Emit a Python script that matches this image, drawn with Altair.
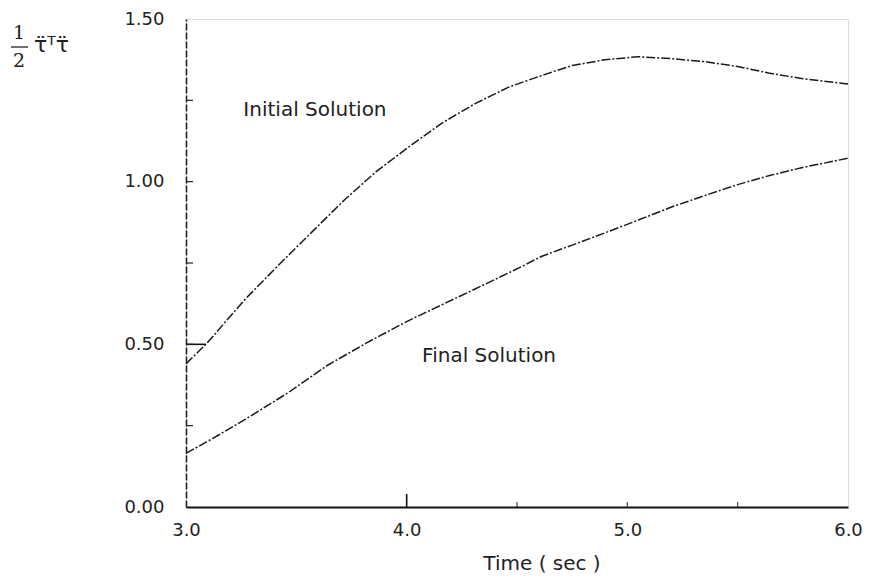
import altair as alt
import pandas as pd

# ---- data ----
initial_t = [3.0, 3.09, 3.27, 3.42, 3.57, 3.72, 3.86, 4.02, 4.16, 4.31, 4.46, 4.61,
             4.75, 4.90, 5.05, 5.20, 5.35, 5.50, 5.64, 5.79, 6.0]
initial_v = [0.44, 0.50, 0.64, 0.744, 0.845, 0.945, 1.03, 1.112, 1.18, 1.24, 1.29, 1.326,
             1.357, 1.375, 1.384, 1.378, 1.369, 1.354, 1.334, 1.317, 1.30]

final_t = [3.0, 3.12, 3.27, 3.46, 3.64, 3.82, 4.0, 4.17, 4.35, 4.53, 4.61, 4.75,
           4.90, 5.05, 5.20, 5.35, 5.50, 5.64, 5.79, 6.0]
final_v = [0.165, 0.21, 0.27, 0.35, 0.435, 0.505, 0.57, 0.625, 0.683, 0.742, 0.77, 0.805,
           0.843, 0.882, 0.922, 0.957, 0.991, 1.018, 1.043, 1.072]

x_ticks = [3.0, 4.0, 5.0, 6.0]
y_ticks = [0.0, 0.5, 1.0, 1.5]
y_minor = [0.25, 0.5, 0.75, 1.0, 1.25]
x_major_inner = [4.0]
x_minor_inner = [4.5, 5.0, 5.5]
stub_t = [3.0]
stub_t2 = [3.09]
stub_v = [0.5]

labels = ["Initial Solution", "Final Solution"]
label_t = [3.26, 4.07]
label_v = [1.22, 0.463]

x_title = "Time ( sec )"

W, H = 662, 488

df = pd.DataFrame({
    "t": initial_t + final_t,
    "v": initial_v + final_v,
    "series": ["Initial"] * len(initial_t) + ["Final"] * len(final_t),
})

xs = alt.Scale(domain=[3.0, 6.0], nice=False, zero=False)
ys = alt.Scale(domain=[0.0, 1.5], nice=False, zero=False)

font = "DejaVu Sans"

lines = alt.Chart(df).mark_line(
    color="#1a1a1a", strokeWidth=1.5, strokeDash=[9, 2, 2, 2]
).encode(
    x=alt.X("t:Q", scale=xs, axis=alt.Axis(
        values=x_ticks, format=".1f", title=None, grid=False, tickSize=0,
        labelFlush=False,
        labelPadding=14, labelFont=font, labelFontSize=18, labelColor="#222",
        domainColor="#111", domainWidth=2)),
    y=alt.Y("v:Q", scale=ys, axis=alt.Axis(
        values=y_ticks, format=".2f", title=None, grid=False, tickSize=0,
        labelFlush=False,
        labelPadding=22, labelFont=font, labelFontSize=18, labelColor="#222",
        domainColor="#222", domainWidth=1.6, domainDash=[7, 2])),
    detail="series:N",
)

stub = alt.Chart(pd.DataFrame({"t": stub_t, "t2": stub_t2, "v": stub_v})).mark_rule(
    color="#111", strokeWidth=1.6
).encode(x=alt.X("t:Q", scale=xs), x2="t2:Q", y=alt.Y("v:Q", scale=ys))

ytick = alt.Chart(pd.DataFrame({"v": y_minor})).mark_rule(color="#222", strokeWidth=1.2).encode(
    y=alt.Y("v:Q", scale=ys), x=alt.value(0), x2=alt.value(7))

xtick_major = alt.Chart(pd.DataFrame({"t": x_major_inner})).mark_rule(color="#111", strokeWidth=1.6).encode(
    x=alt.X("t:Q", scale=xs), y=alt.value(H), y2=alt.value(H - 13))

xtick_minor = alt.Chart(pd.DataFrame({"t": x_minor_inner})).mark_rule(color="#444", strokeWidth=1.2).encode(
    x=alt.X("t:Q", scale=xs), y=alt.value(H), y2=alt.value(H - 5))

ann = alt.Chart(pd.DataFrame({"t": label_t, "v": label_v, "txt": labels})).mark_text(
    align="left", baseline="middle", font=font, fontSize=20, color="#222"
).encode(x=alt.X("t:Q", scale=xs), y=alt.Y("v:Q", scale=ys), text="txt:N")

xtitle = alt.Chart(pd.DataFrame({"a": [0]})).mark_text(
    align="center", baseline="middle", font=font, fontSize=20, color="#222", text=x_title
).encode(x=alt.value(356), y=alt.value(545))

num = alt.Chart(pd.DataFrame({"a": [0]})).mark_text(
    align="center", baseline="middle", font="DejaVu Serif", fontSize=19, color="#222", text="1"
).encode(x=alt.value(-167), y=alt.value(14))

frac = alt.Chart(pd.DataFrame({"a": [0]})).mark_rule(color="#222", strokeWidth=1.3).encode(
    x=alt.value(-175), x2=alt.value(-158), y=alt.value(28))

den = alt.Chart(pd.DataFrame({"a": [0]})).mark_text(
    align="center", baseline="middle", font="DejaVu Serif", fontSize=19, color="#222", text="2"
).encode(x=alt.value(-167), y=alt.value(42))

tau = alt.Chart(pd.DataFrame({"a": [0]})).mark_text(
    align="left", baseline="middle", font=font, fontSize=22, color="#222", text="τ̈ᵀτ̈"
).encode(x=alt.value(-152), y=alt.value(26))

chart = alt.layer(
    lines, stub, ytick, xtick_major, xtick_minor, ann, xtitle, num, frac, den, tau
).properties(
    width=W, height=H,
    autosize=alt.AutoSizeParams(type="none"),
    padding={"left": 178, "top": 11, "right": 16, "bottom": 68},
).configure_view(
    stroke="#555", strokeWidth=1.3, strokeDash=[5, 3]
).configure(background="white")

chart.save("out.html", embed_options={"renderer": "svg", "actions": False})
